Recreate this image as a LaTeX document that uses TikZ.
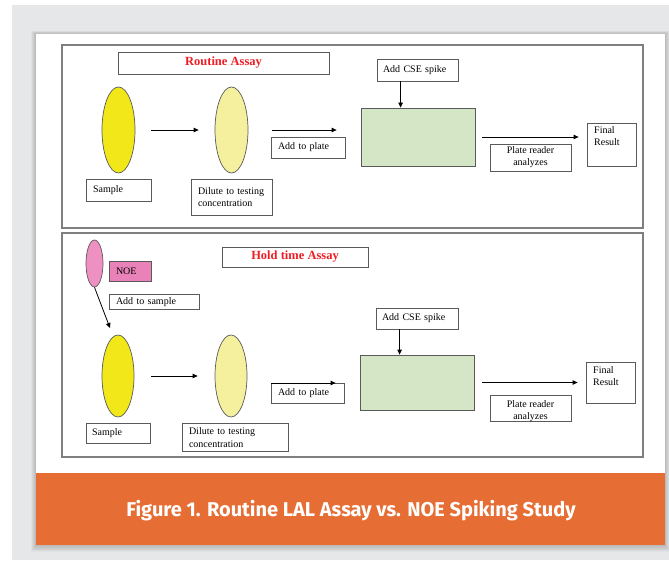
\documentclass[tikz,border=0pt]{standalone}
\usepackage{fontspec}
\setmainfont{Liberation Serif}
\newfontfamily\capfont{Fira Sans}
\usetikzlibrary{arrows.meta,shapes.geometric,calc}
\definecolor{bggray}{HTML}{E6E7E8}
\definecolor{bannerorange}{HTML}{E66E34}
\definecolor{yel}{HTML}{F2E819}
\definecolor{paleyel}{HTML}{F5F09D}
\definecolor{plategreen}{HTML}{D4E6C6}
\definecolor{pinkell}{HTML}{EE90C2}
\definecolor{pinkbox}{HTML}{E882B8}
\definecolor{titlered}{HTML}{EE1C24}
\definecolor{panelgray}{HTML}{7F7F7F}
\definecolor{boxgray}{HTML}{5A5A5A}
\tikzset{
  panel/.style={draw=panelgray, line width=1.1pt},
  box/.style={draw=boxgray, line width=0.8pt, fill=white, inner ysep=0pt, font=\fontsize{10}{12.5}\selectfont},
  oval/.style={ellipse, draw=boxgray, line width=0.7pt, inner sep=0pt},
  arr/.style={-{Triangle[length=5pt,width=4.5pt]}, line width=0.8pt, draw=black},
  ttl/.style={box, text=titlered, font=\fontsize{12.5}{14}\bfseries\selectfont, align=center}
}
\begin{document}
\begin{tikzpicture}[x=1pt,y=-1pt]
\useasboundingbox (0,0) rectangle (669,564);
\fill[white] (0,0) rectangle (669,564);
\fill[bggray] (12,5) rectangle (669,560);
% card shadow
\foreach \i in {1,...,8}{
  \fill[black, opacity=0.025] (36-\i*0.6,34-\i*0.4) rectangle (665+\i*0.6,545+\i*0.9);
}
\fill[white] (36,34) rectangle (665,473);
\fill[bannerorange] (36,473) rectangle (665,545);
\node[text=white, font=\capfont\bfseries\fontsize{20}{24}\selectfont] (cap) at (351,511) {Figure 1. Routine LAL Assay vs. NOE Spiking Study};

% panels
\draw[panel] (62,45) rectangle (643,228);
\draw[panel] (62,233) rectangle (643,457);

% ---------- top panel ----------
\node[ttl, minimum width=211pt, minimum height=22pt] (t1) at (223.5,63) {Routine Assay};
\node[oval, fill=yel, minimum width=33pt, minimum height=86pt] (a1) at (118.5,130) {};
\node[oval, fill=paleyel, minimum width=33pt, minimum height=86pt] (a2) at (231.5,130) {};
\node[box, minimum width=65pt, minimum height=22pt, text width=51pt, inner xsep=7pt, align=left] (as) at (118.5,190) {Sample};
\node[box, minimum width=81pt, minimum height=36pt, text width=67pt, inner xsep=7pt, align=left] (ad) at (231.5,197) {Dilute to testing\\concentration};
\node[box, minimum width=74pt, minimum height=21pt, text width=60pt, inner xsep=7pt, align=left] (ap) at (308,147.5) {Add to plate};
\node[box, minimum width=81pt, minimum height=22pt, text width=69pt, inner xsep=6pt, align=left] (ac) at (417.5,70) {Add CSE spike};
\node[draw=boxgray, line width=0.8pt, fill=plategreen, minimum width=114pt, minimum height=58pt, inner sep=0pt] (ag) at (418,137) {};
\node[box, minimum width=81pt, minimum height=27pt, align=center, inner xsep=2pt, font=\fontsize{10}{12}\selectfont] (ar) at (530.5,157.5) {Plate reader\\analyzes};
\node[box, minimum width=49pt, minimum height=43pt] (af) at (611.5,144.5) {};
\node[anchor=north west, inner sep=0pt, align=left, font=\fontsize{10}{12}\selectfont] (aft) at (594,126) {Final\\Result};
\draw[arr, shorten <=16pt, shorten >=16pt] (a1.east) -- (a2.west);
\draw[arr, shorten <=24pt, shorten >=24pt] (a2.east) -- (a2.east -| ag.west);
\draw[arr, shorten <=7pt, shorten >=8pt] (ag.east) -- (ag.east -| af.west);
\draw[arr] ([xshift=24pt]ac.south west) -- ([xshift=24pt]ac.south west |- ag.north);

% ---------- bottom panel ----------
\node[ttl, minimum width=146pt, minimum height=20pt] (t2) at (295,257) {Hold time Assay};
\node[oval, fill=pinkell, minimum width=17pt, minimum height=47pt] (pe) at (94.5,263.5) {};
\node[box, fill=pinkbox, minimum width=42pt, minimum height=20pt, text width=28pt, inner xsep=7pt, align=left] (noe) at (130,271) {NOE};
\node[box, minimum width=90pt, minimum height=15pt, text width=76pt, inner xsep=7pt, align=left, text depth=-1pt] (ats) at (154,301.5) {Add to sample};
\coordinate (pk) at (110,328);
\draw[arr] (pe.south) -- (pk);
\node[oval, fill=yel, minimum width=32pt, minimum height=82pt] (b1) at (118,376) {};
\node[oval, fill=paleyel, minimum width=32pt, minimum height=82pt] (b2) at (231,376) {};
\node[box, minimum width=64pt, minimum height=20pt, text width=52pt, inner xsep=6pt, align=left] (bs) at (118,433) {Sample};
\node[box, minimum width=106pt, minimum height=28pt, text width=92pt, inner xsep=7pt, align=left] (bd) at (235,437.5) {Dilute to testing\\concentration};
\node[box, minimum width=73pt, minimum height=20pt, text width=59pt, inner xsep=7pt, align=left] (bp) at (307.5,393) {Add to plate};
\node[box, minimum width=82pt, minimum height=21pt, text width=70pt, inner xsep=6pt, align=left] (bc) at (417,318.5) {Add CSE spike};
\node[draw=boxgray, line width=0.8pt, fill=plategreen, minimum width=114pt, minimum height=55pt, inner sep=0pt] (bg) at (417,382.5) {};
\node[box, minimum width=81pt, minimum height=26pt] (br) at (530.5,408) {};
\node[inner sep=0pt, align=center, font=\fontsize{10}{12}\selectfont] (brt) at (530.5,411.5) {Plate reader\\analyzes};
\node[box, minimum width=49pt, minimum height=41pt] (bf) at (610.5,382.5) {};
\node[anchor=north west, inner sep=0pt, align=left, font=\fontsize{10}{12}\selectfont] (bft) at (593,366) {Final\\Result};
\draw[arr, shorten <=17pt, shorten >=17pt] (b1.east) -- (b2.west);
\draw[arr, shorten <=24pt, shorten >=24pt] ([yshift=-7pt]b2.east) -- ([yshift=-7pt]b2.east -| bg.west);
\draw[arr, shorten <=8pt, shorten >=8pt] (bg.east) -- (bg.east -| bf.west);
\draw[arr] ([xshift=24pt]bc.south west) -- ([xshift=24pt]bc.south west |- bg.north);
\end{tikzpicture}
\end{document}
